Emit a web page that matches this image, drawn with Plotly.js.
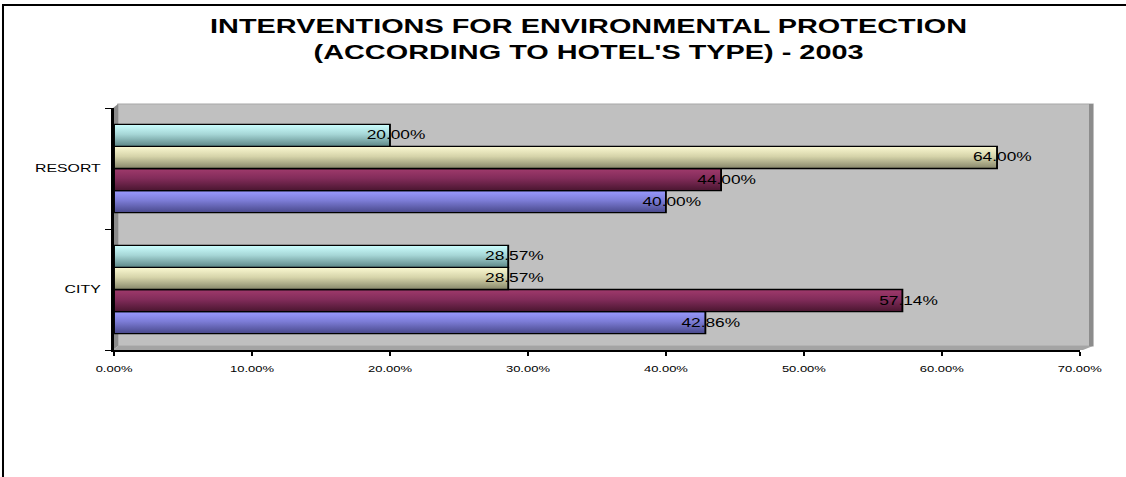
<!DOCTYPE html>
<html>
<head>
<meta charset="utf-8">
<script src="https://cdn.plot.ly/plotly-3.0.1.min.js"></script>
<style>
  html, body { margin: 0; padding: 0; background: #ffffff; overflow: hidden; }
  #chart { width: 780px; height: 477px; transform: scaleX(1.4435897); transform-origin: 0 0; }
</style>
</head>
<body>
<div id="chart"></div>
<script>
// ---- data ----
const categories = ['CITY', 'RESORT'];
const seriesNames = ['Series 1', 'Series 2', 'Series 3', 'Series 4'];
const series1 = [42.86, 40.00];
const series2 = [57.14, 44.00];
const series3 = [28.57, 64.00];
const series4 = [28.57, 20.00];
const xTickVals = [0, 10, 20, 30, 40, 50, 60, 70];
const xTickText = ['0.00%', '10.00%', '20.00%', '30.00%', '40.00%', '50.00%', '60.00%', '70.00%'];
const titleText = "INTERVENTIONS FOR ENVIRONMENTAL PROTECTION<br>(ACCORDING TO HOTEL'S TYPE) - 2003";

// ---- styles ----
const allSeries = [series1, series2, series3, series4];
const baseColors = ['#7474c6', '#7a2a56', '#cfcda0', '#9ccfcf'];
const gradStops = [
  [['0', '#9a9aff'], ['0.45', '#7c7cd6'], ['1', '#48488a']],
  [['0', '#a03a6c'], ['0.45', '#822c5a'], ['1', '#4a1630']],
  [['0', '#fbf9d2'], ['0.45', '#d6d4aa'], ['1', '#86866a']],
  [['0', '#ccffff'], ['0.45', '#a6d6d6'], ['1', '#5c8686']]
];
const FONT = 'Liberation Sans, Arial, sans-serif';
const W = 780, H = 477, L = 79, R = 32, T = 108, B = 127;
const S = 1126 / W;
const PW = W - L - R, PH = H - T - B;
const bargap = 0.27;

// reference-pixel -> paper coordinates (for decorative walls / frame only)
function px(xr) { return (xr / S - L) / PW; }
function py(yr) { return (H - B - yr) / PH; }

const traces = allSeries.map((vals, i) => ({
  type: 'bar',
  orientation: 'h',
  name: seriesNames[i],
  y: categories,
  x: vals,
  marker: { color: baseColors[i], line: { color: '#000000', width: 1.3 } },
  hoverinfo: 'skip'
}));

// data labels centred on the end of each bar
const nS = allSeries.length;
const barW = (1 - bargap) / nS;
const annotations = [];
allSeries.forEach((vals, i) => {
  vals.forEach((v, j) => {
    annotations.push({
      x: v, y: j - (1 - bargap) / 2 + barW * (i + 0.5),
      xref: 'x', yref: 'y',
      text: v.toFixed(2) + '%',
      showarrow: false, xanchor: 'center', yanchor: 'middle', xshift: 4,
      font: { family: FONT, size: 12, color: '#000000' }
    });
  });
});

const shapes = [
  // back wall
  { type: 'rect', xref: 'paper', yref: 'paper', layer: 'below',
    x0: px(118), x1: px(1093), y0: py(346), y1: py(104),
    fillcolor: '#c0c0c0', line: { color: '#a8a8a8', width: 1 } },
  // right edge of wall
  { type: 'rect', xref: 'paper', yref: 'paper', layer: 'below',
    x0: px(1089), x1: px(1093), y0: py(346), y1: py(104),
    fillcolor: '#8c8c8c', line: { width: 0 } },
  // left side wall
  { type: 'path', xref: 'paper', yref: 'paper', layer: 'below',
    path: `M${px(113)},${py(108)} L${px(118)},${py(104)} L${px(118)},${py(346)} L${px(113)},${py(350)} Z`,
    fillcolor: '#8a8a8a', line: { width: 0 } },
  // floor
  { type: 'path', xref: 'paper', yref: 'paper', layer: 'below',
    path: `M${px(113)},${py(350)} L${px(118)},${py(346)} L${px(1093)},${py(346)} L${px(1083)},${py(350)} Z`,
    fillcolor: '#a4a4a4', line: { width: 0 } },
  // outer frame (top and left)
  { type: 'line', xref: 'paper', yref: 'paper', layer: 'below',
    x0: px(2), x1: px(1126), y0: py(5), y1: py(5), line: { color: '#000000', width: 2 } },
  { type: 'line', xref: 'paper', yref: 'paper', layer: 'below',
    x0: px(3), x1: px(3), y0: py(5), y1: py(477), line: { color: '#000000', width: 1.4 } }
];

const layout = {
  width: W, height: H,
  margin: { l: L, r: R, t: T, b: B, pad: 0 },
  paper_bgcolor: '#ffffff',
  plot_bgcolor: 'rgba(0,0,0,0)',
  showlegend: false,
  barmode: 'group',
  bargap: bargap,
  bargroupgap: 0,
  title: {
    text: titleText,
    font: { family: FONT, size: 20, color: '#000000', weight: 'bold' },
    x: 407.7 / W, xref: 'container', xanchor: 'center',
    y: 1 - 33 / H, yref: 'container', yanchor: 'top'
  },
  xaxis: {
    range: [0, 70], tickmode: 'array', tickvals: xTickVals, ticktext: xTickText,
    ticks: 'outside', ticklen: 4, tickwidth: 1, tickcolor: '#000000',
    showline: true, linecolor: '#000000', linewidth: 2,
    showgrid: false, zeroline: false, automargin: false,
    ticklabelstandoff: 5,
    tickfont: { family: FONT, size: 9, color: '#000000' }
  },
  yaxis: {
    type: 'category', categoryorder: 'array', categoryarray: categories,
    range: [-0.5, 1.5],
    tickson: 'boundaries', ticks: 'outside', ticklen: 4, tickwidth: 1, tickcolor: '#000000',
    showline: true, linecolor: '#000000', linewidth: 2,
    showgrid: false, zeroline: false, automargin: false,
    ticklabelstandoff: 5,
    tickfont: { family: FONT, size: 11, color: '#000000' }
  },
  shapes: shapes,
  annotations: annotations
};

const gd = document.getElementById('chart');
Plotly.newPlot(gd, traces, layout, { staticPlot: true, displayModeBar: false }).then(function () {
  const NS = 'http://www.w3.org/2000/svg';
  const svg = gd.querySelector('svg.main-svg');
  let defs = svg.querySelector('defs');
  if (!defs) { defs = document.createElementNS(NS, 'defs'); svg.insertBefore(defs, svg.firstChild); }
  gradStops.forEach((stops, i) => {
    const g = document.createElementNS(NS, 'linearGradient');
    g.setAttribute('id', 'bargrad' + i);
    g.setAttribute('x1', '0'); g.setAttribute('y1', '0');
    g.setAttribute('x2', '0'); g.setAttribute('y2', '1');
    stops.forEach(([off, col]) => {
      const st = document.createElementNS(NS, 'stop');
      st.setAttribute('offset', off);
      st.setAttribute('stop-color', col);
      g.appendChild(st);
    });
    defs.appendChild(g);
  });
  gd.querySelectorAll('.barlayer .trace').forEach((tr, i) => {
    tr.querySelectorAll('.point path').forEach(p => { p.style.fill = 'url(#bargrad' + i + ')'; });
  });
});
</script>
</body>
</html>
